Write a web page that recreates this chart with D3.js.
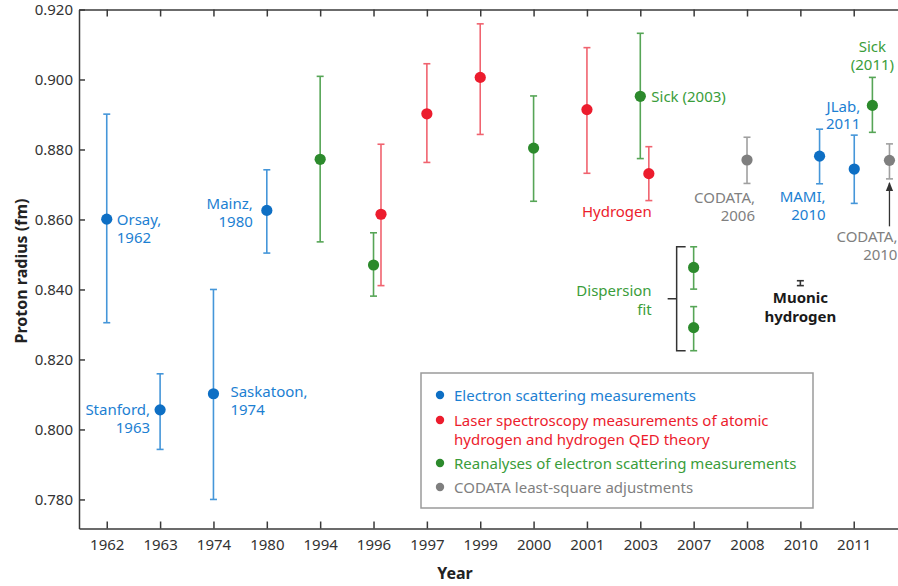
<!DOCTYPE html>
<html lang="en">
<head>
<meta charset="utf-8">
<title>Proton radius</title>
<script src="https://cdn.jsdelivr.net/npm/d3@7"></script>
<style>
  body { margin: 0; background: #fff; }
  svg text { font-family: "Noto Sans", "Open Sans", sans-serif; }
  .axis path, .axis line { stroke: #3a3a3a; stroke-width: 1.5; }
  .axis text { font-size: 15px; fill: #333; }
</style>
</head>
<body>
<script>
// category axis
var years = ["1962", "1963", "1974", "1980", "1994", "1996", "1997", "1999",
             "2000", "2001", "2003", "2007", "2008", "2010", "2011"];
var yTicks = [0.780, 0.800, 0.820, 0.840, 0.860, 0.880, 0.900, 0.920];

// [position on year axis, radius, lower, upper]  (fm)
var electron = [[0, 0.8601, 0.8305, 0.8901], [1, 0.8056, 0.7943, 0.8159],
                [2, 0.8102, 0.7800, 0.8400], [3, 0.8626, 0.8504, 0.8742],
                [13.36, 0.8781, 0.8702, 0.8858], [14.01, 0.8744, 0.8646, 0.8841]];
var laser = [[5.14, 0.8615, 0.8411, 0.8815], [6, 0.8902, 0.8763, 0.9045],
             [7, 0.9006, 0.8843, 0.9159], [9, 0.8914, 0.8732, 0.9091],
             [10.16, 0.8731, 0.8654, 0.8808]];
var reanalysis = [[4, 0.8772, 0.8536, 0.9009], [5, 0.8470, 0.8381, 0.8562],
                  [8, 0.8804, 0.8652, 0.8953], [10, 0.8952, 0.8774, 0.9132],
                  [11, 0.8463, 0.8401, 0.8522], [11, 0.8291, 0.8225, 0.8351],
                  [14.35, 0.8926, 0.8849, 0.9006]];
var codata = [[12, 0.8770, 0.8703, 0.8835], [14.67, 0.8769, 0.8716, 0.8816]];
var muonic = [[13, 0.8418, 0.8411, 0.8425]];

var legendLabels = [["Electron scattering measurements"],
                    ["Laser spectroscopy measurements of atomic", "hydrogen and hydrogen QED theory"],
                    ["Reanalyses of electron scattering measurements"],
                    ["CODATA least-square adjustments"]];

var w = 898, h = 586;
var mLeft = 79, mRight = 898, mTop = 9.5, mBottom = 528.5;

var svg = d3.select("body").append("svg").attr("width", w).attr("height", h);

var x = d3.scaleLinear().domain([-0.52, 14.83]).range([mLeft, mRight]);
var y = d3.scaleLinear().domain([0.7717, 0.920]).range([mBottom, mTop]);

var idx = d3.range(years.length);

// axes
svg.append("g").attr("class", "axis")
    .attr("transform", "translate(0," + mBottom + ")")
    .call(d3.axisBottom(x).tickValues(idx).tickFormat(function (d) { return years[d]; })
        .tickSizeInner(-7).tickSizeOuter(0).tickPadding(11));
svg.append("g").attr("class", "axis")
    .attr("transform", "translate(0," + mTop + ")")
    .call(d3.axisTop(x).tickValues(idx).tickFormat("").tickSizeInner(-7).tickSizeOuter(0));
svg.append("g").attr("class", "axis")
    .attr("transform", "translate(" + mLeft + ",0)")
    .call(d3.axisLeft(y).tickValues(yTicks).tickFormat(d3.format(".3f"))
        .tickSizeInner(-6).tickSizeOuter(0).tickPadding(6));

svg.append("text").text("Proton radius (fm)")
    .attr("transform", "translate(21,271) rotate(-90)")
    .attr("text-anchor", "middle").attr("dominant-baseline", "central")
    .attr("font-size", 16).attr("font-weight", "bold").attr("fill", "#222");
svg.append("text").text("Year")
    .attr("x", 455).attr("y", 573)
    .attr("text-anchor", "middle").attr("dominant-baseline", "central")
    .attr("font-size", 16).attr("font-weight", "bold").attr("fill", "#222");

// error bars with dots
function drawSeries(data, dotColor, barColor, r, cap) {
    var g = svg.append("g");
    var e = g.selectAll("g").data(data).enter().append("g").attr("stroke", barColor).attr("stroke-width", 1.6);
    e.append("line").attr("x1", function (d) { return x(d[0]); }).attr("x2", function (d) { return x(d[0]); })
        .attr("y1", function (d) { return y(d[2]); }).attr("y2", function (d) { return y(d[3]); });
    e.append("line").attr("x1", function (d) { return x(d[0]) - cap; }).attr("x2", function (d) { return x(d[0]) + cap; })
        .attr("y1", function (d) { return y(d[2]); }).attr("y2", function (d) { return y(d[2]); });
    e.append("line").attr("x1", function (d) { return x(d[0]) - cap; }).attr("x2", function (d) { return x(d[0]) + cap; })
        .attr("y1", function (d) { return y(d[3]); }).attr("y2", function (d) { return y(d[3]); });
    if (r > 0) {
        g.selectAll("circle").data(data).enter().append("circle")
            .attr("cx", function (d) { return x(d[0]); })
            .attr("cy", function (d) { return y(d[1]); })
            .attr("r", r).attr("fill", dotColor);
    }
}
var blue = "#0e6fc4", red = "#ec1c2d", green = "#2c8a2c", gray = "#7f7f7f";
drawSeries(electron, blue, "#4596d9", 5.6, 3.5);
drawSeries(laser, red, "#f0636f", 5.6, 3.5);
drawSeries(reanalysis, green, "#56a556", 5.6, 3.5);
drawSeries(codata, gray, "#a0a0a0", 5.6, 3.5);
drawSeries(muonic, "#222", "#333", 0, 3.5);

// annotations: anchored at a data point, offset in px
function note(lines, px, val, dx, dy, anchor, color, bold, lh) {
    var t = svg.append("text")
        .attr("font-size", 15).attr("fill", color).attr("text-anchor", anchor)
        .attr("font-weight", bold ? "bold" : "normal");
    lines.forEach(function (s, i) {
        t.append("tspan").text(s)
            .attr("x", x(px) + dx)
            .attr("y", y(val) + dy + i * (lh || 18))
            .attr("dominant-baseline", "central");
    });
}
var blueT = "#1c80d2", redT = "#ec1c2d", greenT = "#3a9d3a", grayT = "#808080";
note(["Orsay,", "1962"], 0, 0.8601, 10, 0, "start", blueT);
note(["Stanford,", "1963"], 1, 0.8056, -10, -1, "end", blueT);
note(["Saskatoon,", "1974"], 2, 0.8102, 17, -3, "start", blueT);
note(["Mainz,", "1980"], 3, 0.8626, -14, -7, "end", blueT);
note(["Sick (2003)"], 10, 0.8952, 11, 0, "start", greenT);
note(["Hydrogen"], 10.16, 0.8731, 3, 37, "end", redT);
note(["CODATA,", "2006"], 12, 0.8770, 8, 37, "end", grayT);
note(["MAMI,", "2010"], 13.36, 0.8781, 6, 40, "end", blueT);
note(["JLab,", "2011"], 14.01, 0.8744, 6, -63, "end", blueT, false, 17);
note(["Sick", "(2011)"], 14.35, 0.8926, 0, -59, "middle", greenT);
note(["CODATA,", "2010"], 14.67, 0.8769, 8, 76, "end", grayT);
note(["Dispersion", "fit"], 11, 0.8463, -42, 23, "end", greenT, false, 19);
note(["Muonic", "hydrogen"], 13, 0.8418, 0, 14, "middle", "#1a1a1a", true, 19);

// bracket for dispersion fit
var bx = x(11) - 17;
svg.append("path")
    .attr("d", "M" + (bx + 9) + "," + y(0.8522) + "H" + bx + "V" + y(0.8225) + "H" + (bx + 9)
        + "M" + bx + "," + ((y(0.8522) + y(0.8225)) / 2) + "H" + (bx - 9))
    .attr("fill", "none").attr("stroke", "#333").attr("stroke-width", 1.5);

// arrow to CODATA 2010
svg.append("defs").append("marker").attr("id", "arr")
    .attr("viewBox", "0 0 10 10").attr("refX", 9).attr("refY", 5)
    .attr("markerWidth", 7).attr("markerHeight", 7).attr("orient", "auto")
    .append("path").attr("d", "M0,1L10,5L0,9Z").attr("fill", "#333");
svg.append("line")
    .attr("x1", x(14.67)).attr("x2", x(14.67))
    .attr("y1", y(0.8769) + 66).attr("y2", y(0.8716) + 4)
    .attr("stroke", "#333").attr("stroke-width", 1.3).attr("marker-end", "url(#arr)");

// legend
var lg = svg.append("g").attr("transform", "translate(421,373)");
lg.append("rect").attr("width", 392).attr("height", 135)
    .attr("fill", "#fff").attr("stroke", "#9a9a9a").attr("stroke-width", 1.5);
var legendColors = [blue, red, green, gray];
var legendText = [blueT, redT, greenT, grayT];
var rowY = [22, 47, 90, 114];
legendLabels.forEach(function (lines, i) {
    lg.append("circle").attr("cx", 19).attr("cy", rowY[i]).attr("r", 4.2).attr("fill", legendColors[i]);
    lines.forEach(function (s, j) {
        lg.append("text").text(s)
            .attr("x", 33).attr("y", rowY[i] + j * 18.5)
            .attr("dominant-baseline", "central")
            .attr("font-size", 15).attr("fill", legendText[i]);
    });
});
</script>
</body>
</html>
